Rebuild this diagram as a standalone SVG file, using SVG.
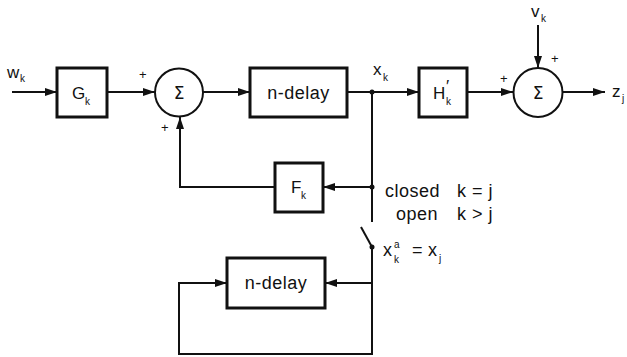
<svg xmlns="http://www.w3.org/2000/svg" width="627" height="357" viewBox="0 0 627 357">
<defs>
<marker id="ah" viewBox="0 0 12 8" refX="12" refY="4" markerWidth="12" markerHeight="8" markerUnits="userSpaceOnUse" orient="auto">
<path d="M0,0 L12,4 L0,8 Z" fill="#111"/>
</marker>
<style>
.box{fill:#fff;stroke:#111;stroke-width:3}
.sum{fill:#fff;stroke:#111;stroke-width:2}
.ln{fill:none;stroke:#111;stroke-width:2}
.t{font-family:"Liberation Sans",Arial,sans-serif;font-size:17px;fill:#111}
.d{font-family:"Liberation Sans",Arial,sans-serif;font-size:18px;fill:#111;letter-spacing:0.5px}
.s{font-family:"Liberation Sans",Arial,sans-serif;font-size:10px;fill:#111}
.p{font-family:"Liberation Sans",Arial,sans-serif;font-size:13px;fill:#111}
.sig{font-family:"DejaVu Sans",sans-serif;font-size:17px;fill:#111}
</style>
</defs>
<rect width="627" height="357" fill="#fff"/>
<g id="connectors">
<line class="ln" x1="12" y1="92" x2="57" y2="92" marker-end="url(#ah)"/>
<line class="ln" x1="107" y1="92" x2="155" y2="92" marker-end="url(#ah)"/>
<line class="ln" x1="203" y1="92" x2="250" y2="92" marker-end="url(#ah)"/>
<line class="ln" x1="347" y1="92" x2="419" y2="92" marker-end="url(#ah)"/>
<line class="ln" x1="467" y1="92" x2="513" y2="92" marker-end="url(#ah)"/>
<line class="ln" x1="562" y1="92" x2="605" y2="92" marker-end="url(#ah)"/>
<line class="ln" x1="538" y1="25" x2="538" y2="68" marker-end="url(#ah)"/>
<line class="ln" x1="372" y1="92" x2="372" y2="222"/>
<line class="ln" x1="372" y1="187" x2="323" y2="187" marker-end="url(#ah)"/>
<polyline class="ln" points="275,187 180,187 180,117" marker-end="url(#ah)"/>
<line class="ln" x1="361" y1="227" x2="372" y2="247"/>
<polyline class="ln" points="372,247 372,354 179,354 179,283 227,283" marker-end="url(#ah)"/>
<line class="ln" x1="372" y1="283" x2="325" y2="283" marker-end="url(#ah)"/>
<circle cx="372" cy="92" r="2.5" fill="#111"/>
<circle cx="372" cy="187" r="2.5" fill="#111"/>
<circle cx="372" cy="247" r="2.5" fill="#111"/>
</g>
<g id="w-label"><text class="t" x="7" y="78">w</text><text class="s" x="20" y="82">k</text></g>
<g id="G"><rect class="box" x="57" y="68" width="50" height="49"/><text class="t" x="72" y="99">G</text><text class="s" x="85" y="105">k</text></g>
<g id="sum1"><circle class="sum" cx="179" cy="92.5" r="24"/><text class="sig" x="179" y="99" text-anchor="middle">Σ</text>
<text class="p" x="139" y="79">+</text><text class="p" x="161" y="132">+</text></g>
<g id="delay1"><rect class="box" x="250" y="68" width="97" height="49"/><text class="d" x="298.5" y="99" text-anchor="middle">n-delay</text></g>
<g id="xk-label"><text class="t" x="373" y="75">x</text><text class="s" x="383" y="81">k</text></g>
<g id="H"><rect class="box" x="419" y="68" width="48" height="49"/><text class="t" x="433" y="99">H</text><text class="t" x="446" y="92">′</text><text class="s" x="446" y="105">k</text></g>
<g id="sum2"><circle class="sum" cx="538" cy="92.5" r="24.5"/><text class="sig" x="538" y="99" text-anchor="middle">Σ</text>
<text class="p" x="500" y="83">+</text><text class="p" x="551" y="63">+</text></g>
<g id="vk-label"><text class="t" x="531" y="17">v</text><text class="s" x="541" y="22">k</text></g>
<g id="zj-label"><text class="t" x="612" y="97">z</text><text class="s" x="622" y="102">j</text></g>
<g id="F"><rect class="box" x="275" y="163" width="48" height="49"/><text class="t" x="291" y="193">F</text><text class="s" x="301" y="199">k</text></g>
<g id="switch-labels">
<text class="d" x="385" y="197">closed</text><text class="d" x="457" y="197">k = j</text>
<text class="d" x="396" y="220">open</text><text class="d" x="457" y="220">k &gt; j</text>
<text class="d" x="383" y="256">x</text><text class="s" x="394" y="248">a</text><text class="s" x="394" y="263">k</text>
<text class="d" x="412" y="256">=</text><text class="d" x="428" y="256">x</text><text class="s" x="439" y="262">j</text>
</g>
<g id="delay2"><rect class="box" x="227" y="258" width="98" height="50"/><text class="d" x="276" y="289" text-anchor="middle">n-delay</text></g>
</svg>
